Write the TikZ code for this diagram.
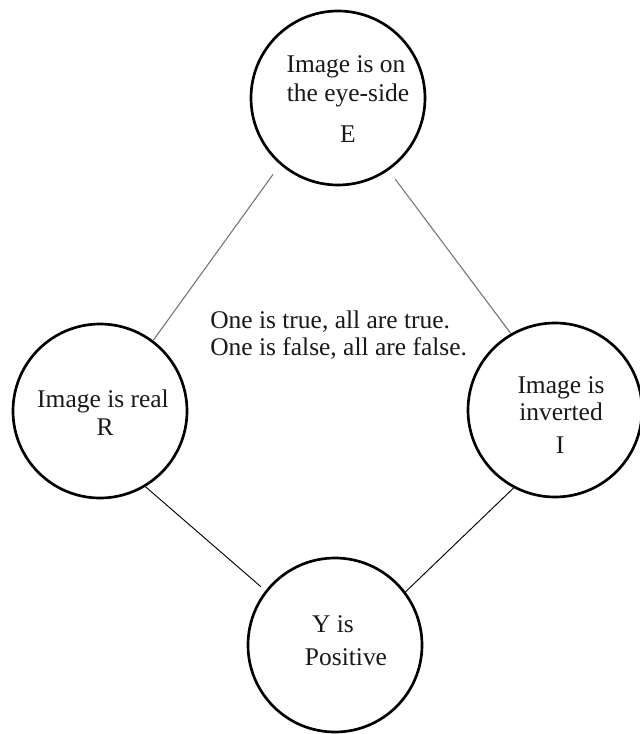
\documentclass[tikz,border=0pt]{standalone}
\usepackage{fontspec}
\setmainfont{Liberation Serif}
\begin{document}
\begin{tikzpicture}[x=0.75pt,y=-0.75pt,
  bub/.style={draw=black,line width=2pt,circle,minimum size=130.5pt,inner sep=0pt},
  lbl/.style={anchor=base,inner sep=0pt,font=\fontsize{19.1}{21}\selectfont,text=black!90},
  linkg/.style={draw=black!55,line width=0.8pt},
  linkb/.style={draw=black,line width=0.7pt}]
\useasboundingbox[fill=white] (0,0) rectangle (639,734);
\node[bub] (E) at (338,98) {};
\node[bub] (R) at (100,411) {};
\node[bub] (I) at (555,410) {};
\node[bub] (Y) at (335,645) {};
% texts
\node[lbl] (e1) at (346,73) {Image is on};
\node[lbl] (e2) at (348,102) {the eye-side};
\node[lbl] (e3) at (348,143) {E};
\node[lbl] (r1) at (103,407) {Image is real};
\node[lbl] (r2) at (105,435) {R};
\node[lbl] (i1) at (561,393) {Image is};
\node[lbl] (i2) at (561,420) {inverted};
\node[lbl] (i3) at (560,453) {I};
\node[lbl] (y1) at (333,632) {Y is};
\node[lbl] (y2) at (346,665) {Positive};
\node[lbl,anchor=base west] (c1) at (210,328) {One is true, all are true.};
\node[lbl,anchor=base west] (c2) at (210,355) {One is false, all are false.};
% connectors
\draw[linkg,shorten <=12pt*0.75] (E.229) -- (R.53);
\draw[linkg,shorten <=11pt*0.75] (E.305) -- (I.120);
\draw[linkb,shorten >=6pt*0.75] (R.301) -- (Y.142);
\draw[linkb] (I.242) -- (Y.37);
\end{tikzpicture}
\end{document}
